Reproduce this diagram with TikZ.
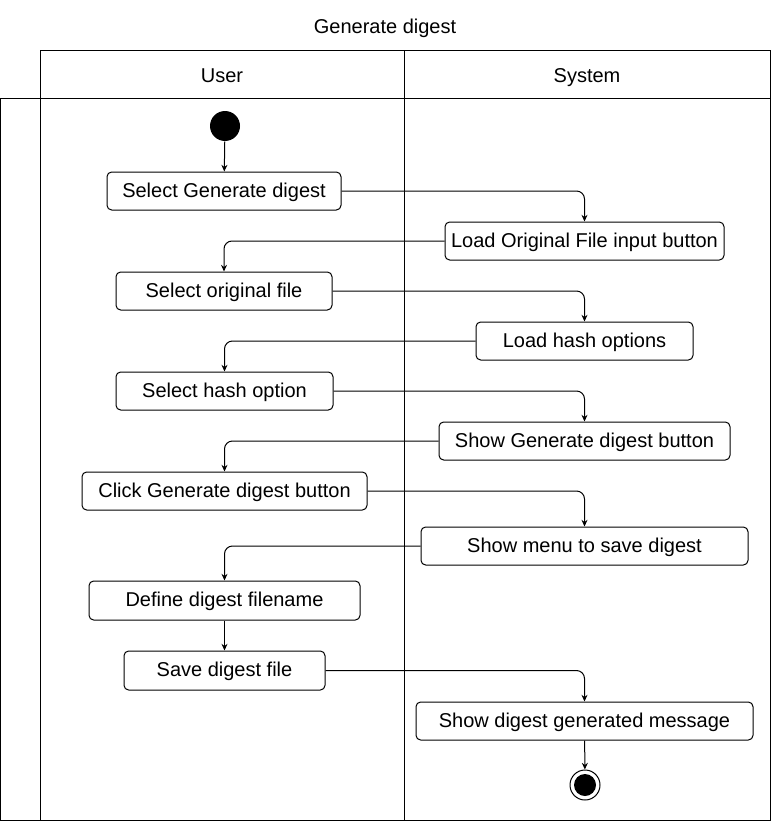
\documentclass[tikz,border=0pt]{standalone}
\usepackage{fontspec}
\setmainfont{Liberation Sans}
\usetikzlibrary{arrows.meta}
\begin{document}
\begin{tikzpicture}[x=0.75pt,y=-0.75pt,line width=0.75pt,
  txt/.style={font=\fontsize{15}{17}\selectfont, text height=11pt, text depth=1.8pt},
  box/.style={txt, draw, rounded corners=3.5pt, inner sep=0pt, minimum height=28.5pt},
  arr/.style={-{Stealth[length=5pt,width=4.5pt]}, rounded corners=6pt},
  lbl/.style={txt, inner sep=0pt}]
\useasboundingbox (0,0) rectangle (771,821);
% lanes
\draw (40,50) rectangle (770.5,820.5);
\draw (40,98) -- (770.5,98);
\draw (404,50) -- (404,820.5);
\draw (0.5,98) rectangle (40,820.5);
\node[lbl] (title) at (385,27) {Generate digest};
\node[lbl] (user) at (222,76) {User};
\node[lbl] (system) at (587,76) {System};
% nodes
\node[circle, fill=black, minimum size=22.5pt, inner sep=0pt] (start) at (225,126) {};
\node[box, minimum width=175.5pt] (b1) at (224,191) {Select Generate digest};
\node[box, minimum width=209.25pt] (s1) at (584.5,241) {Load Original File input button};
\node[box, minimum width=162pt] (b2) at (224,291) {Select original file};
\node[box, minimum width=162.75pt] (s2) at (584.5,341) {Load hash options};
\node[box, minimum width=162.75pt] (b3) at (224.5,391) {Select hash option};
\node[box, minimum width=218.25pt] (s3) at (584.5,441) {Show Generate digest button};
\node[box, minimum width=213.75pt] (b4) at (224.5,491) {Click Generate digest button};
\node[box, minimum width=245.25pt] (s4) at (584.5,546) {Show menu to save digest};
\node[box, minimum width=203.25pt, minimum height=29.25pt] (b5) at (224.5,600.5) {Define digest filename};
\node[box, minimum width=150.75pt, minimum height=29.25pt] (b6) at (224.5,670.5) {Save digest file};
\node[box, minimum width=252.75pt] (s5) at (584.5,721) {Show digest generated message};
\node[circle, draw, minimum size=22.5pt, inner sep=0pt,
  path picture={\fill (path picture bounding box.center) circle (8.25pt);}] (end) at (585,785) {};
% connectors
\draw[arr] (start) -- (b1);
\draw[arr] (b1.east) -| (s1.north);
\draw[arr] (s1.west) -| (b2.north);
\draw[arr] (b2.east) -| (s2.north);
\draw[arr] (s2.west) -| (b3.north);
\draw[arr] (b3.east) -| (s3.north);
\draw[arr] (s3.west) -| (b4.north);
\draw[arr] (b4.east) -| (s4.north);
\draw[arr] (s4.west) -| (b5.north);
\draw[arr] (b5) -- (b6);
\draw[arr] (b6.east) -| (s5.north);
\draw[arr] (s5) -- (end);
\end{tikzpicture}
\end{document}
